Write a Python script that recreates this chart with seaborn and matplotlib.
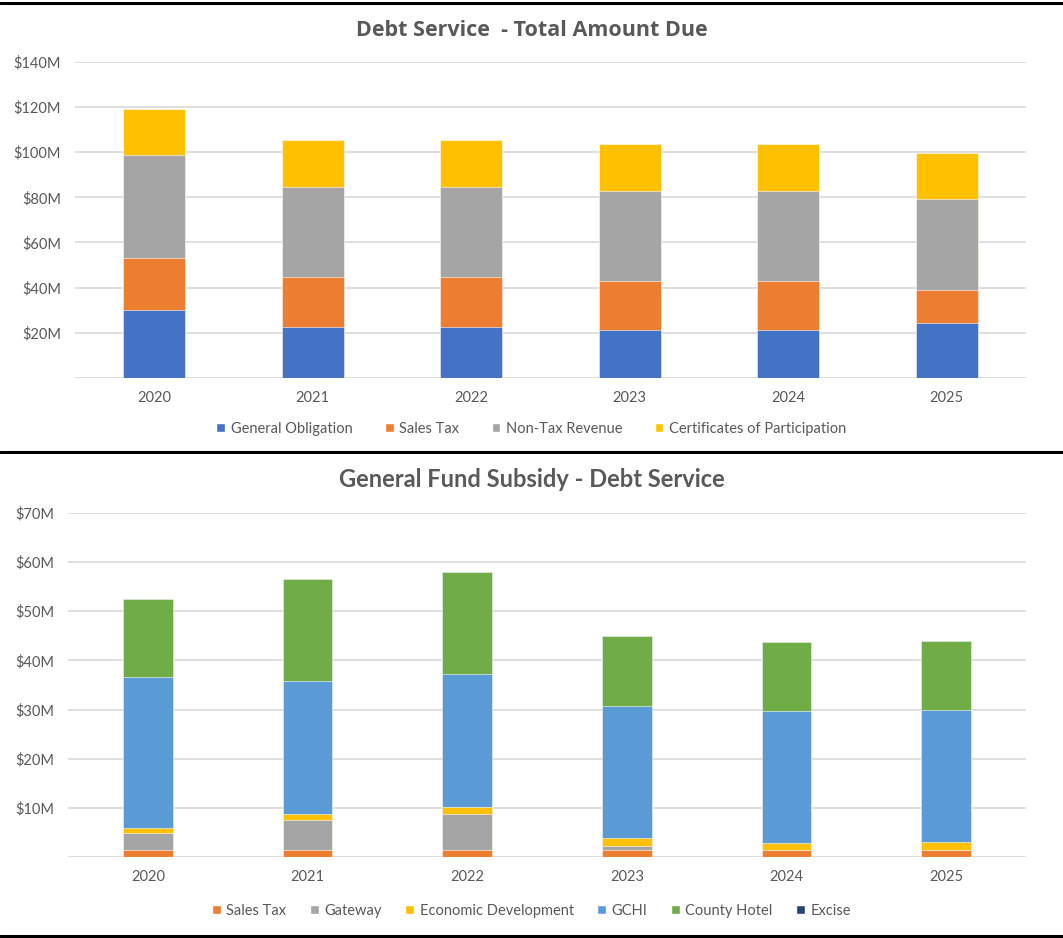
import matplotlib
matplotlib.use("Agg")
import matplotlib.pyplot as plt
from matplotlib.lines import Line2D
from matplotlib.patches import Patch
import numpy as np
import pandas as pd
import seaborn as sns

# data (millions of dollars)
years = ["2020", "2021", "2022", "2023", "2024", "2025"]

# Debt Service - Total Amount Due
general_obligation = [30.0, 22.7, 22.7, 21.1, 21.1, 24.2]
sales_tax_top = [23.0, 21.8, 21.8, 21.8, 21.8, 14.7]
non_tax_revenue = [45.6, 40.1, 40.1, 39.9, 39.9, 40.2]
certificates = [20.5, 20.6, 20.6, 20.7, 20.7, 20.7]

# General Fund Subsidy - Debt Service
sales_tax_bot = [1.4, 1.4, 1.4, 1.4, 1.4, 1.4]
gateway = [3.5, 6.1, 7.4, 1.0, 0.0, 0.0]
economic_dev = [1.0, 1.4, 1.4, 1.5, 1.5, 1.7]
gchi = [30.7, 26.9, 27.1, 26.9, 26.9, 26.9]
county_hotel = [15.8, 20.7, 20.7, 14.1, 13.9, 13.9]
excise = [0.0, 0.0, 0.0, 0.0, 0.0, 0.0]

top_series = {
    "General Obligation": (general_obligation, "#4472C4"),
    "Sales Tax": (sales_tax_top, "#ED7D31"),
    "Non-Tax Revenue": (non_tax_revenue, "#A5A5A5"),
    "Certificates of Participation": (certificates, "#FFC000"),
}
bot_series = {
    "Sales Tax": (sales_tax_bot, "#ED7D31"),
    "Gateway": (gateway, "#A5A5A5"),
    "Economic Development": (economic_dev, "#FFC000"),
    "GCHI": (gchi, "#5B9BD5"),
    "County Hotel": (county_hotel, "#70AD47"),
    "Excise": (excise, "#264478"),
}

sns.set_theme(style="white")
plt.rcParams["font.family"] = ["Lato", "DejaVu Sans"]
txt = "#595959"
grid = "#D9D9D9"


def stacked(ax, series, width, ymax, step):
    # draw cumulative totals from the top layer down so the bars look stacked
    names = list(series.keys())
    cum = np.cumsum([series[n][0] for n in names], axis=0)
    for i in range(len(names) - 1, -1, -1):
        df = pd.DataFrame({"year": years, "value": cum[i]})
        sns.barplot(data=df, x="year", y="value", color=series[names[i]][1],
                    saturation=1, width=width, ax=ax, zorder=3,
                    edgecolor="white", linewidth=0.4)
    ax.set_ylim(0, ymax)
    ax.set_xlim(-0.5, len(years) - 0.5)
    ticks = np.arange(0, ymax + step, step)
    ax.set_yticks(ticks)
    ax.set_yticklabels([""] + ["$%dM" % t for t in ticks[1:]])
    ax.yaxis.grid(True, color=grid, linewidth=1.2, zorder=0)
    ax.set_axisbelow(True)
    for s in ax.spines.values():
        s.set_visible(False)
    ax.tick_params(axis="both", length=0, colors=txt, labelsize=10.5)
    ax.tick_params(axis="y", pad=10)
    ax.tick_params(axis="x", pad=9)
    ax.set_xlabel("")
    ax.set_ylabel("")
    handles = [Patch(facecolor=series[n][1], label=n) for n in names]
    return handles


fig = plt.figure(figsize=(10.63, 9.38), dpi=100)

ax1 = fig.add_axes([0.0706, 0.597, 0.8946, 0.3372])
h1 = stacked(ax1, top_series, 0.39, 140, 20)
fig.text(0.5, 0.967, "Debt Service  - Total Amount Due", ha="center", va="center",
         fontsize=15.5, fontweight="bold", color=txt,
         family=["Open Sans", "DejaVu Sans"])
fig.legend(handles=h1, loc="center", bbox_to_anchor=(0.5, 0.543), ncol=4,
           frameon=False, fontsize=10.5, handlelength=0.6, handleheight=0.6,
           handletextpad=0.4, columnspacing=2.2, labelcolor=txt)

ax2 = fig.add_axes([0.064, 0.086, 0.9012, 0.3674])
h2 = stacked(ax2, bot_series, 0.31, 70, 10)
fig.text(0.5, 0.4885, "General Fund Subsidy - Debt Service", ha="center", va="center",
         fontsize=17, fontweight="bold", color=txt)
fig.legend(handles=h2, loc="center", bbox_to_anchor=(0.5, 0.029), ncol=6,
           frameon=False, fontsize=10.5, handlelength=0.6, handleheight=0.6,
           handletextpad=0.4, columnspacing=1.6, labelcolor=txt)

# panel borders
for y in [0.9968, 0.518, 0.002]:
    fig.add_artist(Line2D([0, 1], [y, y], transform=fig.transFigure,
                          color="black", linewidth=2.2))

fig.savefig("out.png", dpi=100, facecolor="white")
